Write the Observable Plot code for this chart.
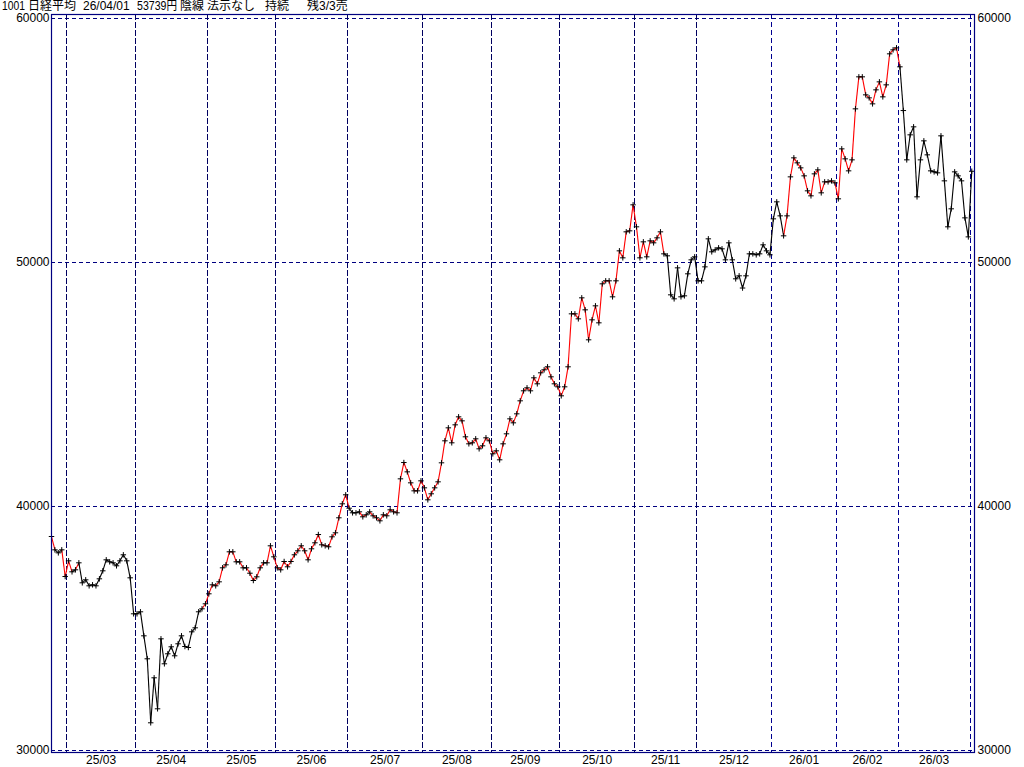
<!DOCTYPE html>
<html><head><meta charset="utf-8">
<script src="https://cdn.jsdelivr.net/npm/d3@7"></script>
<script src="https://cdn.jsdelivr.net/npm/@observablehq/plot@0.6"></script>
<style>
html,body{margin:0;padding:0;background:#fff;}
body{width:1024px;height:767px;overflow:hidden;position:relative;font-family:"Liberation Sans","Noto Sans CJK JP",sans-serif;}
#chart{position:absolute;left:0;top:0;}
#title{position:absolute;left:0;top:0;width:1024px;height:12px;}
#title span{position:absolute;top:1px;font-size:12px;line-height:10px;color:#000;white-space:nowrap;transform-origin:0 50%;display:inline-block;font-family:"Liberation Sans","Noto Sans CJK JP",sans-serif;}
</style></head><body>
<div id="chart"></div>
<div id="title"></div>
<script>
// ---- data ----
const titleParts = [["1001",2],["日経平均",28],["26/04/01",83],["53739円",137],["陰線",180],["法示なし",207],["持続",265],["残3/3売",307]];
const closes = [
 38770,38224,38101,38224,37130,
 37774,37323,37405,37692,36872,36995,36749,36790,36749,37036,37364,37815,37733,37692,37569,37774,38020,37774,37077,35602,
 35602,35684,34700,33758,31135,32979,31709,34577,33553,33963,34250,33881,34373,34700,34262,34221,34864,35028,35684,35807,36012,
 36422,36790,36749,36913,37487,37610,38143,38143,37733,37733,37487,37487,37266,36967,37118,37487,37692,37692,38389,37938,
 37487,37405,37746,37528,37746,38020,38184,38389,38184,37815,38266,38512,38851,38430,38389,38348,38758,38922,39537,40110,40479,
 39930,39741,39741,39782,39577,39659,39782,39618,39537,39413,39659,39618,39864,39782,39741,41134,41802,41420,40970,40642,40642,41052,
 40765,40274,40520,40765,41011,41790,42692,43224,42610,43347,43675,43511,42856,42569,42610,42774,42364,42487,42815,42692,
 42159,42282,41913,42569,42979,43593,43429,43798,44331,44741,44864,44741,45274,45028,45479,45602,45725,45315,45028,44905,
 44536,44905,45725,47896,47896,47691,48552,48060,46831,47650,48224,47527,49126,49249,49249,48593,49249,50478,50191,51257,51298,52364,
 51462,50191,50847,50232,50888,50806,51011,51257,50355,50273,48675,48511,49781,48593,48634,49536,50109,50232,
 49249,49249,49822,50970,50437,50519,50601,50560,50109,50806,50109,49331,49454,48954,49454,50355,50355,50314,50355,50724,50478,50314,
 51789,52486,51912,51093,51912,53510,54289,54084,53879,53551,52937,52732,53633,53797,52855,53305,53305,53346,53264,
 52609,54658,54248,53756,54207,56297,57609,57609,56871,56748,56502,57076,57404,56789,57281,58552,58716,58798,
 58020,56227,54207,55232,55560,52691,54207,54986,54412,53756,53715,53674,55191,53346,51462,52200,53715,53551,53346,51830,51050,
 53739
];
// segment (i-1 -> i) drawn red when i falls in one of these ranges
const redRanges = [[1,1],[4,6],[8,8],[45,54],[56,56],[58,62],[64,87],[91,92],[94,179],[215,248]];
const monthStarts = [5,25,46,66,87,109,129,149,171,189,211,230,248,269];
const monthLabels = ["25/03","25/04","25/05","25/06","25/07","25/08","25/09","25/10","25/11","25/12","26/01","26/02","26/03"];
const yTicks = [30000,40000,50000,60000];

// ---- build ----
const isRed = i => redRanges.some(([a,b]) => i >= a && i <= b);
const points = closes.map((v,i) => ({i, v}));
const segments = closes.slice(1).map((v,k) => ({i0:k, v0:closes[k], i1:k+1, v1:v, c: isRed(k+1) ? "#ff0000" : "#000000"}));
const bounds = monthStarts.map(s => s - 0.5);
const bounds25 = bounds.slice(0, 10);   // month starts in 2025
const bounds26 = bounds.slice(10);      // month starts in 2026
const labels = monthLabels.map((t,k) => ({t, x:(bounds[k] + bounds[k+1]) / 2}));

const hgrid = {stroke:"#000080", strokeDasharray:"4,3", strokeWidth:1, shapeRendering:"crispEdges"};
const vgrid25 = {stroke:"#000060", strokeDasharray:"6,2", strokeWidth:1, shapeRendering:"crispEdges"};
const vgrid26 = {stroke:"#000090", strokeDasharray:"5,3", strokeWidth:1, shapeRendering:"crispEdges"};
const numFont = "'Liberation Sans', sans-serif";

const chart = Plot.plot({
  width:1024, height:767,
  marginLeft:51, marginRight:50, marginTop:14, marginBottom:15,
  x:{domain:[0,269.8], axis:null},
  y:{domain:[29918,60164], axis:null},
  style:{background:"#fff", fontFamily:numFont, fontSize:"12px", color:"#000"},
  marks:[
    Plot.ruleY(yTicks, hgrid),
    Plot.ruleX(bounds25, vgrid25),
    Plot.ruleX(bounds26, vgrid26),
    Plot.link(segments, {x1:"i0", y1:"v0", x2:"i1", y2:"v1", stroke:"c", strokeWidth:1.1}),
    Plot.dot(points, {x:"i", y:"v", symbol:"plus", r:1.9, stroke:"#000", strokeWidth:1}),
    Plot.frame({stroke:"#000080", strokeWidth:1.2}),
    Plot.axisY(yTicks, {anchor:"left", tickSize:0, tickPadding:2, tickFormat:d3.format("d"), label:null, fill:"#000", fontSize:12}),
    Plot.axisY(yTicks, {anchor:"right", tickSize:0, tickPadding:3, tickFormat:d3.format("d"), label:null, fill:"#000", fontSize:12}),
    Plot.text(labels, {x:"x", text:"t", frameAnchor:"bottom", dy:8, lineAnchor:"middle", fill:"#000", fontSize:12})
  ]
});
document.getElementById("chart").appendChild(chart);

const title = document.getElementById("title");
const spans = titleParts.map(([t,x]) => {
  const s = document.createElement("span");
  s.textContent = t; s.style.left = x + "px";
  title.appendChild(s);
  return s;
});
// squeeze a part horizontally if it would run into the next one
spans.forEach((s,k) => {
  const next = k + 1 < titleParts.length ? titleParts[k+1][1] : 1024;
  const room = next - titleParts[k][1] - 3;
  const w = s.getBoundingClientRect().width;
  if (w > room) s.style.transform = `scaleX(${room / w})`;
});
</script>
</body></html>
